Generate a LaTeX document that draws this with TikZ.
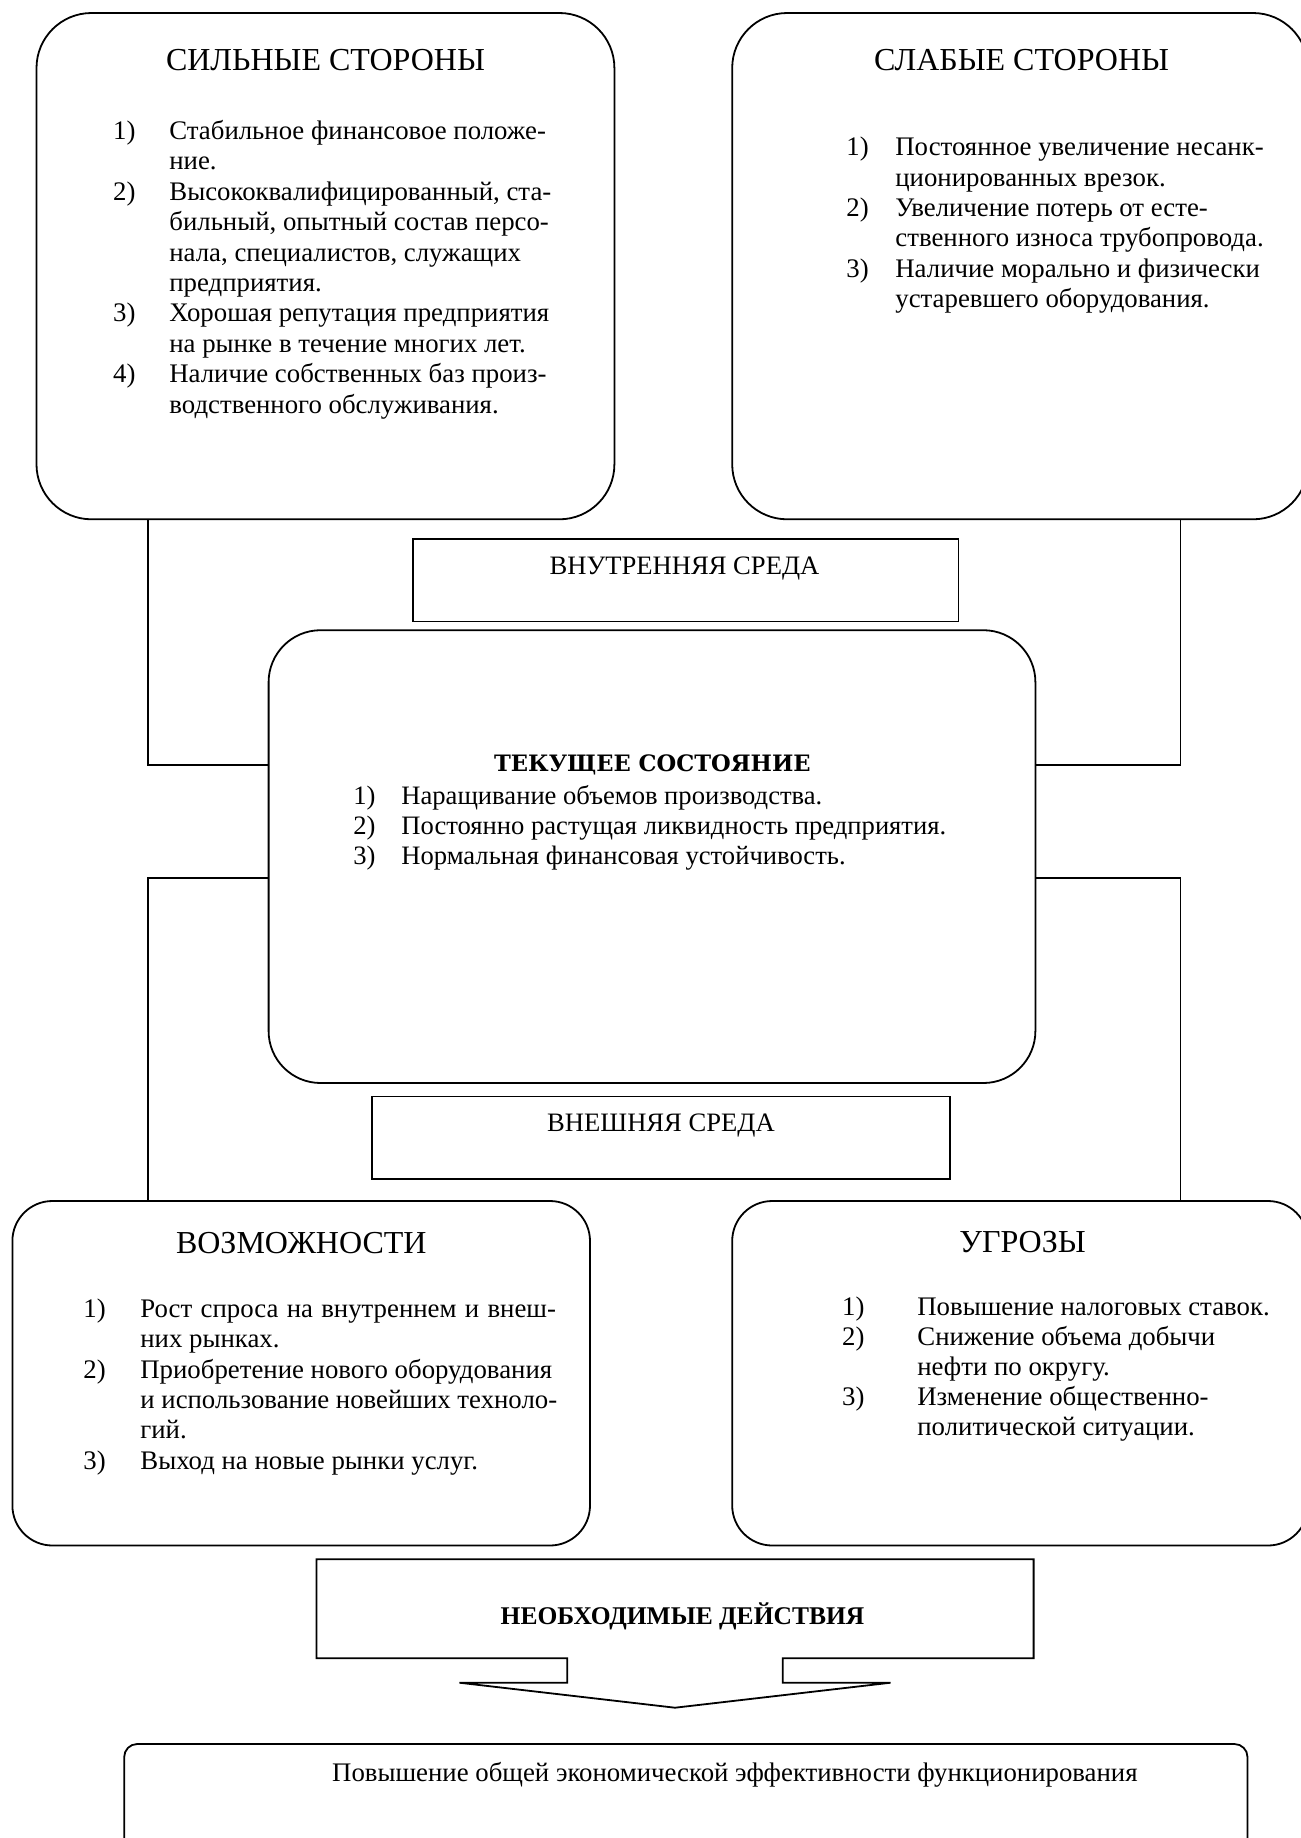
\documentclass[tikz,border=0pt]{standalone}
\usepackage{fontspec}
\setmainfont{Liberation Serif}
\newfontfamily\statefont{DejaVu Serif}
\usetikzlibrary{fit}

\begin{document}
\begin{tikzpicture}[x=0.5pt, y=-0.5pt,
    boxline/.style={draw, line width=0.9pt, inner sep=0pt},
    head/.style={anchor=base, font=\fontsize{16}{18}\selectfont},
    env/.style={anchor=base, font=\fontsize{13.3}{15}\selectfont},
    items/.style={anchor=base west, inner sep=0pt, font=\fontsize{13.4}{15.2}\selectfont},
    link/.style={line width=0.7pt}]
    \useasboundingbox (0,0) rectangle (1301,1838);
    \clip (0,0) rectangle (1301,1838);

    \node[boxline, rounded corners=27.5pt, fit={(36.5,13) (614.4,519.3)}] (strong) {};
    \node[boxline, rounded corners=27.5pt, fit={(732.2,13) (1308,519.3)}] (weak) {};
    \node[boxline, rounded corners=26pt, fit={(268.6,630.2) (1035.4,1083)}] (state) {};
    \node[boxline, rounded corners=20pt, fit={(12.4,1201) (590,1545.5)}] (chance) {};
    \node[boxline, rounded corners=20pt, fit={(732.2,1201) (1308,1545.5)}] (threat) {};
    \node[boxline, fit={(412.6,539.2) (958.4,621.4)}] (inner) {};
    \node[boxline, fit={(372,1096.5) (949.8,1178.7)}] (outer) {};
    \node[boxline, rounded corners=6.5pt, fit={(124.2,1744) (1247.5,1860)}] (goal) {};

    \node[head] (strongT) at (325.5,70) {СИЛЬНЫЕ СТОРОНЫ};
    \node[head] (weakT) at (1021.6,70.6) {СЛАБЫЕ СТОРОНЫ};
    \node[head] (chanceT) at (301.3,1253.3) {ВОЗМОЖНОСТИ};
    \node[head] (threatT) at (1022.6,1252.7) {УГРОЗЫ};
    \node[env] (innerT) at (684.5,574) {ВНУТРЕННЯЯ СРЕДА};
    \node[env] (outerT) at (661,1131.7) {ВНЕШНЯЯ СРЕДА};
    \node[anchor=base, font=\statefont\bfseries\fontsize{11.3}{14}\selectfont] (stateT) at (652.4,771.7) {ТЕКУЩЕЕ СОСТОЯНИЕ};

    \node[items] (strongL) at (112.8,139.5) {\begin{tabular}[t]{@{}p{28.1pt}@{}l@{}}
        1) & Стабильное финансовое положе-\\
           & ние.\\
        2) & Высококвалифицированный, ста-\\
           & бильный, опытный состав персо-\\
           & нала, специалистов, служащих\\
           & предприятия.\\
        3) & Хорошая репутация предприятия\\
           & на рынке в течение многих лет.\\
        4) & Наличие собственных баз произ-\\
           & водственного обслуживания.
    \end{tabular}};
    \node[items] (weakL) at (846,155.6) {\begin{tabular}[t]{@{}p{24.5pt}@{}l@{}}
        1) & Постоянное увеличение несанк-\\
           & ционированных врезок.\\
        2) & Увеличение потерь от есте-\\
           & ственного износа трубопровода.\\
        3) & Наличие морально и физически\\
           & устаревшего оборудования.
    \end{tabular}};
    \node[items, font=\fontsize{13.3}{14.8}\selectfont] (stateL) at (353,804.8) {\begin{tabular}[t]{@{}p{24pt}@{}l@{}}
        1) & Наращивание объемов производства.\\
        2) & Постоянно растущая ликвидность предприятия.\\
        3) & Нормальная финансовая устойчивость.
    \end{tabular}};
    \node[items] (chanceL) at (83,1317.3) {\begin{tabular}[t]{@{}p{28.5pt}@{}l@{}}
        1) & \makebox[207.8pt][s]{Рост спроса на внутреннем и внеш-}\\
           & них рынках.\\
        2) & Приобретение нового оборудования\\
           & и использование новейших техноло-\\
           & гий.\\
        3) & Выход на новые рынки услуг.
    \end{tabular}};
    \node[items, font=\fontsize{13.4}{15}\selectfont] (threatL) at (841.8,1315) {\begin{tabular}[t]{@{}p{37.6pt}@{}l@{}}
        1) & Повышение налоговых ставок.\\
        2) & Снижение объема добычи\\
           & нефти по округу.\\
        3) & Изменение общественно-\\
           & политической ситуации.
    \end{tabular}};

    \draw[boxline] (316.4,1559.3) -- (1033.6,1559.3) -- (1033.6,1658.3) -- (782.8,1658.3)
        -- (782.8,1682.7) -- (890.6,1682.7) -- (675,1707.7) -- (459.4,1682.7)
        -- (567.2,1682.7) -- (567.2,1658.3) -- (316.4,1658.3) -- cycle;
    \node[anchor=base, font=\bfseries\fontsize{12.75}{14}\selectfont] (actT) at (682.5,1624) {НЕОБХОДИМЫЕ ДЕЙСТВИЯ};
    \node[anchor=base west, inner sep=0pt, font=\fontsize{13.4}{15}\selectfont] (goalT) at (331.8,1781.7) {Повышение общей экономической эффективности функционирования};

    \coordinate (lx) at (148,0);
    \coordinate (rx) at (1180.5,0);
    \coordinate (hu) at (0,765);
    \coordinate (hl) at (0,878);
    \draw[link] (strong.south -| lx) |- (state.west |- hu);
    \draw[link] (weak.south -| rx) |- (state.east |- hu);
    \draw[link] (state.west |- hl) -| (chance.north -| lx);
    \draw[link] (state.east |- hl) -| (threat.north -| rx);
\end{tikzpicture}
\end{document}
